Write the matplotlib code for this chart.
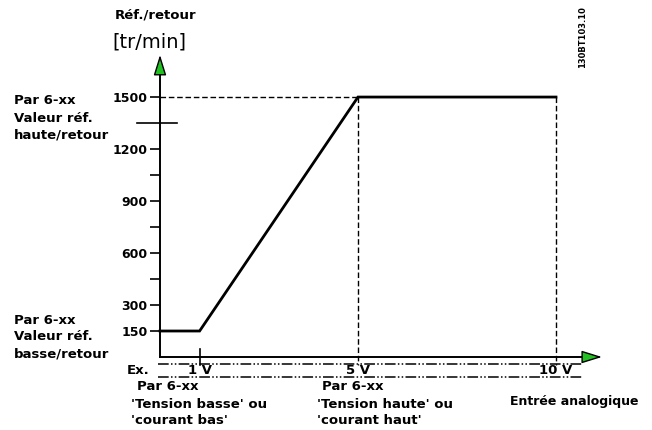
import matplotlib
matplotlib.use('Agg')
import matplotlib.pyplot as plt

# analog input (V) -> reference/feedback (tr/min)
volts = [0, 1, 5, 10]
speed = [150, 150, 1500, 1500]
major_ticks = [150, 300, 600, 900, 1200, 1500]
minor_ticks = [450, 750, 1050]
cross_tick = 1350
volt_marks = [1, 5, 10]
volt_labels = ['1 V', '5 V', '10 V']

W, H = 652, 430
X0, Y0 = 160., 357.      # pixel position of the origin
XS, YS = 39.6, 0.1733    # pixels per volt / per tr/min
BAND = (-40, -115)       # the two "Ex." band lines, in tr/min units
FS = 9.5

def px(x, y):
    return x / float(W), 1. - y / float(H)

def label(fig, x, y, s, **kw):
    kw.setdefault('fontsize', FS)
    kw.setdefault('fontweight', 'bold')
    fig.text(*px(x, y), s, va='center', ha=kw.pop('ha', 'left'), **kw)

def main():
    fig = plt.figure(figsize=(W / 100., H / 100.), dpi=100)
    ax = fig.add_axes([0, 0, 1, 1])
    ax.set_xlim(-X0 / XS, (W - X0) / XS)
    ax.set_ylim(-(H - Y0) / YS, Y0 / YS)
    ax.patch.set_alpha(0)

    ytip, xtip = 1743, 11.16
    for s in ('top', 'right'):
        ax.spines[s].set_visible(False)
    ax.spines['left'].set_position(('data', 0))
    ax.spines['bottom'].set_position(('data', 0))
    ax.spines['left'].set_bounds(0, 1680)
    ax.spines['bottom'].set_bounds(0, 10.9)
    for s in ('left', 'bottom'):
        ax.spines[s].set_linewidth(1.4)

    ax.set_xticks([])
    ax.set_yticks(major_ticks)
    ax.set_yticks(minor_ticks, minor=True)
    ax.tick_params(axis='y', which='both', direction='out', length=7.5,
                   width=1.2, labelsize=9, pad=1.5)
    for t in ax.get_yticklabels():
        t.set_fontweight('bold')

    # arrow heads
    arw = dict(arrowstyle='-|>,head_length=0.9,head_width=0.28',
               fc='#22c022', ec='black', lw=1, mutation_scale=14,
               shrinkA=0, shrinkB=0)
    ax.annotate('', xy=(0, ytip), xytext=(0, ytip - 60), arrowprops=arw)
    ax.annotate('', xy=(xtip, 0), xytext=(xtip - 0.2, 0), arrowprops=arw)

    # long tick at 1350
    ax.plot([-0.58, 0.43], [cross_tick, cross_tick], 'k', lw=1.2)

    # curve
    ax.plot(volts, speed, 'k', lw=2, solid_joinstyle='miter')
    top = max(speed)
    ax.plot([0, volts[2]], [top, top], 'k', lw=1, dashes=(4, 2))
    for v in volt_marks[1:]:
        ax.plot([v, v], [top, -46], 'k', lw=1, dashes=(4, 2))
    ax.plot([volt_marks[0]] * 2, [46, -46], 'k', lw=1.2)

    # example band
    for b in BAND:
        ax.plot([-0.05, 10.68], [b, b], 'k', lw=1.1,
                dashes=(7, 1.5, 1, 1.5, 1, 1.5))
    for v, s in zip(volt_marks, volt_labels):
        ax.text(v, sum(BAND) / 2., s, ha='center', va='center',
                fontsize=FS, fontweight='bold')
    label(fig, 150, 371, 'Ex.', ha='right')

    label(fig, 115, 15, 'Réf./retour')
    label(fig, 112, 42, '[tr/min]', fontsize=14, fontweight='normal')
    for i, s in enumerate(['Par 6-xx', 'Valeur réf.', 'haute/retour']):
        label(fig, 14, 101 + 17 * i, s)
    for i, s in enumerate(['Par 6-xx', 'Valeur réf.', 'basse/retour']):
        label(fig, 14, 320 + 17 * i, s)
    label(fig, 137, 387, 'Par 6-xx')
    label(fig, 131, 404, "'Tension basse' ou")
    label(fig, 131, 420, "'courant bas'")
    label(fig, 322, 387, 'Par 6-xx')
    label(fig, 317, 404, "'Tension haute' ou")
    label(fig, 317, 420, "'courant haut'")
    label(fig, 510, 402, 'Entrée analogique', fontsize=9)
    label(fig, 583, 37, '130BT103.10', fontsize=6, rotation=90, ha='center')

    fig.savefig('out.png', dpi=100)

if __name__ == '__main__':
    main()
